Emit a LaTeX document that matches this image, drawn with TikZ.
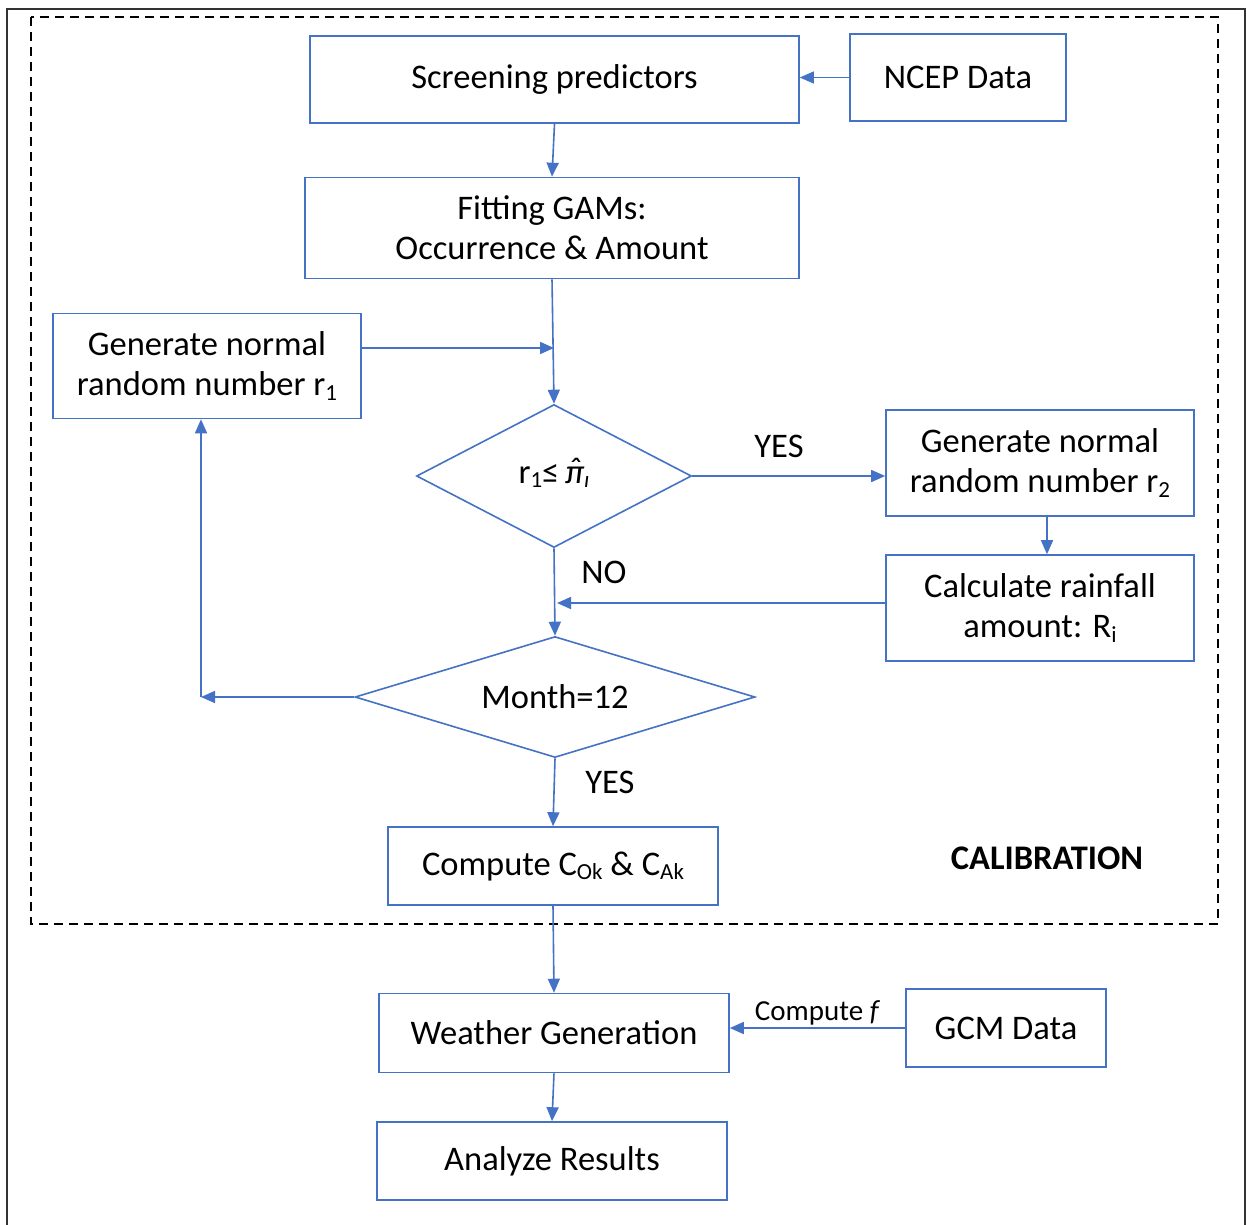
\documentclass[tikz,border=0pt]{standalone}
\usepackage{fontspec}
\setmainfont{Carlito}
\usetikzlibrary{shapes.geometric,arrows.meta}
\definecolor{boxblue}{HTML}{4472C4}
\newcommand{\lsub}[1]{\raisebox{-0.12em}{\fontsize{23}{23}\selectfont #1}}
\newcommand{\pihat}{\textit{\ooalign{π\cr\hidewidth\raisebox{0.05em}{ˆ}\hidewidth\cr}}\lsub{\textit{ı}}}
\begin{document}
\begin{tikzpicture}[x=1pt,y=-1pt,
  every node/.style={font=\fontsize{34.5}{40}\selectfont, text=black},
  box/.style={draw=boxblue, line width=1.6pt, align=center, inner sep=2pt},
  dia/.style={draw=boxblue, line width=1.6pt, diamond, inner sep=0pt, align=center},
  arr/.style={draw=boxblue, line width=1.6pt, -{Triangle[length=14pt,width=12pt]}},
  lbl/.style={font=\fontsize{34.5}{40}\selectfont}]
\useasboundingbox (0,0) rectangle (1247,1224);
\fill[white] (0,0) rectangle (1247,1224);
\draw[line width=1.6pt, black!80] (7,9) rectangle (1245,1240);
\draw[line width=1.5pt, dashed, dash pattern=on 9pt off 6pt] (31,17) rectangle (1218,924);

\node[box, minimum width=489pt, minimum height=87pt] (screen) at (554.5,79.5) {Screening predictors};
\node[box, minimum width=216pt, minimum height=87pt] (ncep) at (958,77.5) {NCEP Data};
\node[box, minimum width=494pt, minimum height=101pt] (fit) at (552,228) {Fitting GAMs:\\Occurrence \& Amount};
\node[box, minimum width=308pt, minimum height=105pt] (r1) at (207,366) {Generate normal\\random number r\lsub{1}};
\node[dia, shape aspect=1.92, minimum width=275pt, minimum height=143pt] (d1) at (554,476) {r\lsub{1}≤\,\pihat};
\node[box, minimum width=308pt, minimum height=106pt] (r2) at (1040,463) {Generate normal\\random number r\lsub{2}};
\node[box, minimum width=308pt, minimum height=106pt] (calc) at (1040,608) {Calculate rainfall\\amount: R\lsub{i}};
\node[dia, shape aspect=3.3, minimum width=400pt, minimum height=121pt] (d2) at (555,697) {Month=12};
\node[box, minimum width=330pt, minimum height=78pt] (comp) at (553,866) {Compute C\lsub{Ok} \& C\lsub{Ak}};
\node[box, minimum width=350pt, minimum height=79pt] (wg) at (554,1033) {Weather Generation};
\node[box, minimum width=200pt, minimum height=78pt] (gcm) at (1006,1028) {GCM Data};
\node[box, minimum width=350pt, minimum height=78pt] (ar) at (552,1161) {Analyze Results};

\node[font=\bfseries\fontsize{34.5}{40}\selectfont] (cal) at (1047,858) {CALIBRATION};
\node[lbl] (yes1) at (779,446) {YES};
\node[lbl] (no1) at (604,572) {NO};
\node[lbl] (yes2) at (610,782) {YES};

\coordinate (j1) at (554,348);
\coordinate (j2) at (201,697);
\coordinate (j3) at (557,603);

\draw[arr] (ncep.west) -- (ncep.west -| screen.east);
\draw[arr] (screen.south) -- (fit.north);
\draw[arr] (fit.south) -- (d1.north);
\draw[arr] (j1 -| r1.east) -- (j1);
\draw[arr] (d1.east) -- (d1.east -| r2.west);
\draw[arr] (r2.south -| 1047,0) -- (calc.north -| 1047,0);
\draw[arr] (d1.south) -- (d2.north);
\draw[arr] (calc.west |- j3) -- (j3);
\draw[arr] (d2.west) -- (j2);
\draw[arr] (j2) -- (j2 |- r1.south);
\draw[arr] (d2.south) -- (comp.north);
\draw[arr] (comp.south) -- (wg.north);
\draw[arr] (gcm.west) -- node[above, font=\fontsize{29}{34}\selectfont, pos=0.5, inner sep=2pt] (cf) {Compute \textit{f}} (gcm.west -| wg.east);
\draw[arr] (wg.south) -- (ar.north);
\end{tikzpicture}
\end{document}
